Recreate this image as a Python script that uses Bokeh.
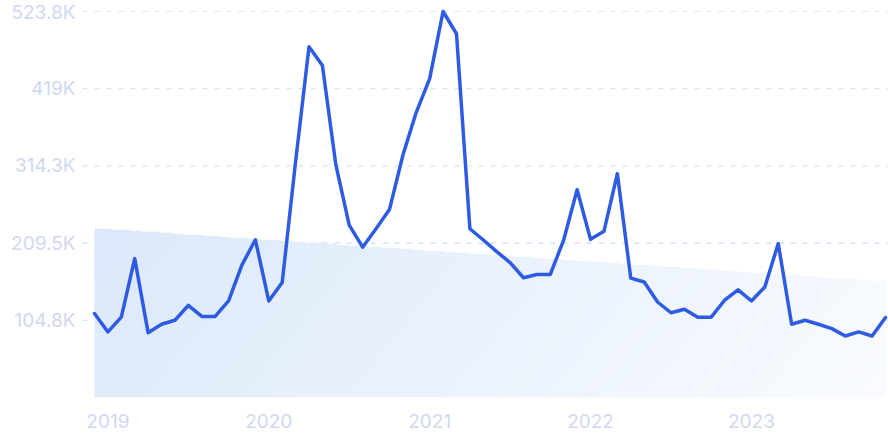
import numpy as np
import pandas as pd
from bokeh.plotting import figure
from bokeh.models import FixedTicker, Range1d, Span
from bokeh.embed import file_html
from bokeh.resources import INLINE

# ---- data ----
months = [d.strftime("%Y-%m") for d in pd.date_range("2018-12-01", periods=60, freq="MS")]
values = [
    114000, 89000, 109000, 188500, 88000, 99400, 104800, 125000, 110000, 110000,
    131000, 180000, 214000, 131000, 156000, 320000, 476000, 450600, 316000, 234000,
    204000, 229000, 255000, 328600, 387000, 432600, 523800, 493600, 229000, 213700,
    198000, 183000, 162500, 167000, 167000, 214000, 282000, 214600, 225500, 303700,
    162000, 156800, 129600, 115000, 119700, 109000, 109000, 132000, 146000, 131000,
    150000, 208800, 99400, 104800, 99400, 93500, 83500, 89000, 83500, 108500,
]
trend_start = 229000
trend_end = 156800
y_ticks = [104800, 209500, 314300, 419000, 523800]
y_tick_labels = ["104.8K", "209.5K", "314.3K", "419K", "523.8K"]
year_labels = ["2019", "2020", "2021", "2022", "2023"]

x = list(range(len(values)))
x_ticks = [i for i, m in enumerate(months) if m.endswith("-01")]

FONT = "Inter"
LABEL_COLOR = "#cfd8f1"

p = figure(
    width=888, height=443, output_backend="svg", toolbar_location=None,
    x_range=Range1d(-0.895, len(values) - 1 + 0.224),
    y_range=Range1d(0, 538700),
    min_border_left=82, min_border_right=0, min_border_top=0, min_border_bottom=46,
)
p.outline_line_color = None
p.background_fill_color = "white"
p.border_fill_color = "white"
p.xgrid.visible = False
p.ygrid.visible = False

# ---- gradient trend area (image masked to the trend trapezoid) ----
W, H = 800, 400
dh = float(max(trend_start, trend_end))
u = (np.arange(W) + 0.5) / W
vy = (np.arange(H) + 0.5) / H * dh
U, V = np.meshgrid(u, vy)
top = trend_start + (trend_end - trend_start) * U
mask = V <= top
t = np.clip(0.85 * U + 0.15 * (1 - V / dh), 0, 1)
c0 = np.array([220, 233, 250])
c1 = np.array([250, 252, 255])
img = np.zeros((H, W), dtype=np.uint32)
view = img.view(dtype=np.uint8).reshape((H, W, 4))
for k in range(3):
    view[:, :, k] = (c0[k] + (c1[k] - c0[k]) * t).astype(np.uint8)
view[:, :, 3] = np.where(mask, 255, 0).astype(np.uint8)
p.image_rgba(image=[img], x=x[0], y=0, dw=x[-1] - x[0], dh=dh)

# ---- gridlines ----
grid_colors = ["#b3e1fb", "#c3e0f9", "#d9e2f6", "#dce4f7", "#dce4f7"]
for v, c in zip(y_ticks, grid_colors):
    p.add_layout(Span(location=v, dimension="width", line_color=c,
                      line_width=1.2, line_dash="5 7", level="underlay"))

# ---- main line ----
p.line(x, values, line_color="#2d5be3", line_width=3.5, line_join="round", line_cap="round")

# ---- axes ----
p.yaxis.ticker = FixedTicker(ticks=y_ticks)
p.yaxis.major_label_overrides = {v: l for v, l in zip(y_ticks, y_tick_labels)}
p.xaxis.ticker = FixedTicker(ticks=x_ticks)
p.xaxis.major_label_overrides = {i: l for i, l in zip(x_ticks, year_labels)}
for ax in (p.xaxis, p.yaxis):
    ax.axis_line_color = None
    ax.major_tick_line_color = None
    ax.minor_tick_line_color = None
    ax.major_label_text_font = FONT
    ax.major_label_text_font_size = "19px"
    ax.major_label_text_color = LABEL_COLOR
p.yaxis.major_label_standoff = 1
p.xaxis.major_label_standoff = 10

open("out.html", "w").write(file_html(p, INLINE))
